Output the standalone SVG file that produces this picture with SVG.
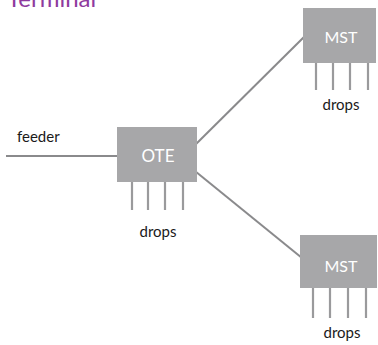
<svg xmlns="http://www.w3.org/2000/svg" width="378" height="345" viewBox="0 0 378 345">
<style>
.box{fill:#a7a7a9}
.lbl{font-family:Lato,"Liberation Sans",sans-serif;fill:#ffffff;text-anchor:middle}
.txt{font-family:Lato,"Liberation Sans",sans-serif;font-size:15px;fill:#1a1a1a}
.drop{stroke:#9a9a9c;stroke-width:2.2;fill:none}
.conn{stroke:#8a8a8c;stroke-width:2;fill:none}
</style>
<rect width="378" height="345" fill="#ffffff"/>
<text x="7" y="7" font-family="Lato,'Liberation Sans',sans-serif" font-size="24" fill="#8e3a9e">Terminal</text>
<g id="connectors">
<line class="conn" x1="6" y1="156" x2="120" y2="156"/>
<line class="conn" x1="190" y1="150" x2="305" y2="36"/>
<line class="conn" x1="190" y1="167" x2="302" y2="258"/>
</g>
<g id="feeder">
<text class="txt" x="17" y="142">feeder</text>
</g>
<g id="ote">
<rect class="box" x="117" y="127" width="80" height="55"/>
<text class="lbl" x="158" y="162" font-size="17">OTE</text>
<path class="drop" d="M132 182V210M148 182V210M165 182V210M183 182V210"/>
<text class="txt" x="158" y="237" text-anchor="middle">drops</text>
</g>
<g id="mst-top">
<rect class="box" x="303" y="8" width="73" height="55"/>
<text class="lbl" x="341" y="43" font-size="16">MST</text>
<path class="drop" d="M316 63V90M333 63V90M350 63V90M368 63V90"/>
<text class="txt" x="341" y="110" text-anchor="middle">drops</text>
</g>
<g id="mst-bottom">
<rect class="box" x="300" y="235" width="77" height="53"/>
<text class="lbl" x="341" y="272" font-size="16">MST</text>
<path class="drop" d="M313 288V318M330 288V318M348 288V318M366 288V318"/>
<text class="txt" x="342" y="338" text-anchor="middle">drops</text>
</g>
</svg>
